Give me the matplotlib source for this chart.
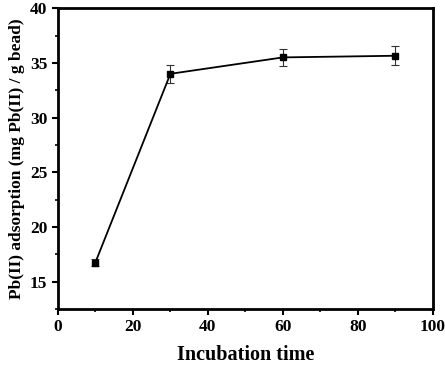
import matplotlib
matplotlib.use('Agg')
import matplotlib.pyplot as plt
from matplotlib.ticker import MultipleLocator

time = [10, 30, 60, 90]
adsorption = [16.75, 34.0, 35.5, 35.65]
err = [0.3, 0.8, 0.75, 0.85]

plt.rcParams['font.family'] = 'Liberation Serif'
plt.rcParams['font.weight'] = 'bold'

fig = plt.figure(figsize=(4.45, 3.71), dpi=100)
ax = fig.add_axes([0.130, 0.167, 0.843, 0.811])
ax.errorbar(time, adsorption, yerr=err, color='black', marker='s', markersize=5,
            linewidth=1.3, ecolor='#333333', elinewidth=0.8, capsize=3, capthick=0.8)

ax.set_xlim(0, 100)
ax.set_ylim(12.5, 40)
ax.xaxis.set_major_locator(MultipleLocator(20))
ax.xaxis.set_minor_locator(MultipleLocator(10))
ax.yaxis.set_major_locator(MultipleLocator(5))
ax.yaxis.set_minor_locator(MultipleLocator(2.5))
ax.set_yticks([15, 20, 25, 30, 35, 40])
for s in ax.spines.values():
    s.set_linewidth(2)
ax.tick_params(which='major', direction='out', length=4, width=1.5, labelsize=12.5)
ax.tick_params(which='minor', direction='out', length=2.5, width=1.2)
for lab in ax.get_xticklabels() + ax.get_yticklabels():
    lab.set_fontweight('bold')
ax.set_xlabel('Incubation time', fontsize=14.5, fontweight='bold', labelpad=7)
ax.set_ylabel('Pb(II) adsorption (mg Pb(II) / g bead)', fontsize=12.5, fontweight='bold', labelpad=4)

fig.savefig('out.png', dpi=100)
